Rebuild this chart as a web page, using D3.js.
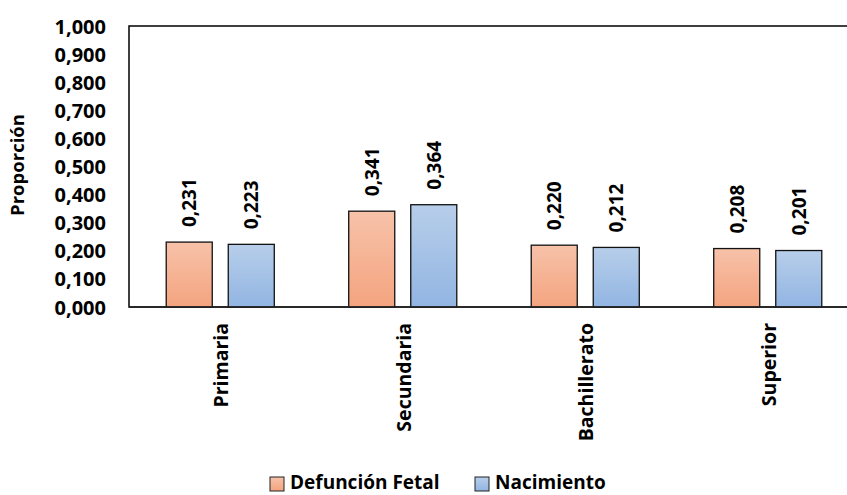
<!DOCTYPE html>
<html><head><meta charset="utf-8">
<script src="https://cdn.jsdelivr.net/npm/d3@7"></script>
<style>body{margin:0;background:#fff}svg{display:block;font-family:"Open Sans",sans-serif;font-weight:bold}</style>
</head><body><svg id="c" width="847" height="495"></svg>
<script>
const categories = ["Primaria","Secundaria","Bachillerato","Superior"];
const series = ["Defunción Fetal","Nacimiento"];
const defuncionFetal = [0.231,0.341,0.220,0.208];
const nacimiento = [0.223,0.364,0.212,0.201];
const yTicks = [0,0.1,0.2,0.3,0.4,0.5,0.6,0.7,0.8,0.9,1.0];
const yTitle = "Proporción";

const svg = d3.select("#c");
const m = {left:129, top:26, bottom:307, right:859};
const fmt = v => d3.format(".3f")(v).replace(".", ",");
const x0 = d3.scaleBand().domain(categories).range([m.left, m.right]).padding(0);
const x1 = d3.scaleBand().domain(series).range([0, x0.bandwidth()]).paddingInner(0.258).paddingOuter(0.6);
const y = d3.scaleLinear().domain([0,1]).range([m.bottom, m.top]);

const defs = svg.append("defs");
const grads = [["gO","#F7C2A9","#F4A47F"],["gB","#B7CEEA","#92B5E2"]];
grads.forEach(([id,a,b])=>{
  const g = defs.append("linearGradient").attr("id",id).attr("x1",0).attr("y1",0).attr("x2",0).attr("y2",1);
  g.append("stop").attr("offset","0%").attr("stop-color",a);
  g.append("stop").attr("offset","100%").attr("stop-color",b);
});
const fills = {"Defunción Fetal":"url(#gO)","Nacimiento":"url(#gB)"};

// frame
svg.append("rect").attr("x",m.left).attr("y",m.top).attr("width",m.right-m.left).attr("height",m.bottom-m.top)
  .attr("fill","none").attr("stroke","#000").attr("stroke-width",1.5);

// y axis labels
const yAxis = d3.axisLeft(y).tickValues(yTicks).tickFormat(fmt).tickSize(0).tickPadding(23);
const ya = svg.append("g").attr("transform",`translate(${m.left},0)`).call(yAxis);
ya.select(".domain").remove();
ya.selectAll("text").attr("font-size",20).attr("font-family","Open Sans").attr("font-weight","bold").attr("fill","#000").attr("dy","0.35em");

// bars
const rows = categories.map((c,i)=>({c, vals:[{s:series[0],v:defuncionFetal[i]},{s:series[1],v:nacimiento[i]}]}));
const g = svg.selectAll("g.cat").data(rows).join("g").attr("class","cat").attr("transform",d=>`translate(${x0(d.c)},0)`);
g.selectAll("rect").data(d=>d.vals).join("rect")
  .attr("x",d=>x1(d.s)).attr("width",x1.bandwidth())
  .attr("y",d=>y(d.v)).attr("height",d=>y(0)-y(d.v))
  .attr("fill",d=>fills[d.s]).attr("stroke","#111").attr("stroke-width",1.3);
g.selectAll("text").data(d=>d.vals).join("text")
  .attr("transform",d=>`translate(${x1(d.s)+x1.bandwidth()/2+7},${y(d.v)-15}) rotate(-90)`)
  .attr("font-size",19).attr("fill","#000").text(d=>fmt(d.v));

// x axis line
svg.append("line").attr("x1",m.left).attr("x2",m.right).attr("y1",m.bottom).attr("y2",m.bottom).attr("stroke","#222").attr("stroke-width",1.5);

// category labels
svg.selectAll("text.catlab").data(categories).join("text").attr("class","catlab")
  .attr("transform",d=>`translate(${x0(d)+x0.bandwidth()/2+8},323) rotate(-90)`)
  .attr("text-anchor","end").attr("font-size",19.5).attr("fill","#000").text(d=>d);

// y title
svg.append("text").attr("transform","translate(24,165) rotate(-90)").attr("text-anchor","middle")
  .attr("font-size",18.5).attr("fill","#000").text(yTitle);

// legend
const legX = [270,475];
series.forEach((s,i)=>{
  svg.append("rect").attr("x",legX[i]).attr("y",477).attr("width",14).attr("height",14)
    .attr("fill",fills[s]).attr("stroke","#222").attr("stroke-width",1);
  svg.append("text").attr("x",legX[i]+20).attr("y",489).attr("font-size",19).attr("fill","#000").text(s);
});
</script></body></html>
